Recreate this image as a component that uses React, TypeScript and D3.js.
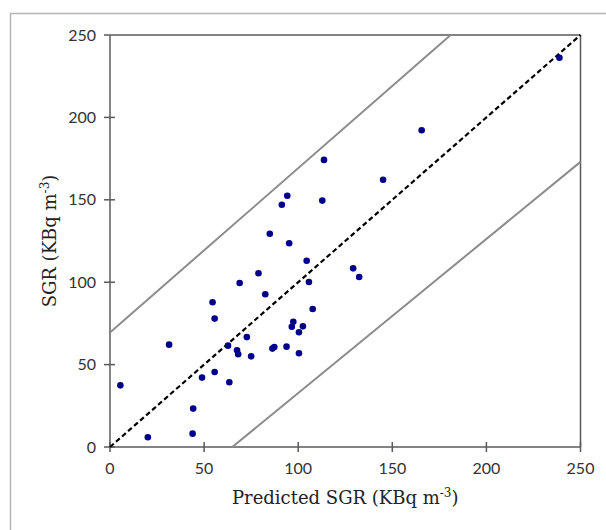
import React from "react";
import * as d3 from "d3";

const predicted = [
  113.7, 145.1, 94.2, 91.3, 112.8, 84.9, 95.2, 104.5, 129.2, 132.4,
  78.9, 68.9, 105.7, 82.5, 54.5, 55.6, 107.7, 97.4, 96.6, 102.5,
  100.4, 72.7, 62.7, 67.5, 68.1, 75.0, 86.3, 87.3, 93.8, 100.4,
  48.9, 55.6, 63.4, 238.8, 165.6, 5.5, 31.4, 20.1, 44.2, 43.9,
];
const observed = [
  174.2, 162.2, 152.5, 147.0, 149.5, 129.4, 123.6, 113.0, 108.4, 103.2,
  105.4, 99.5, 100.1, 92.7, 87.8, 77.9, 83.7, 76.0, 73.0, 73.2,
  69.6, 66.7, 61.5, 58.7, 56.3, 55.0, 59.7, 60.7, 60.9, 56.9,
  42.1, 45.5, 39.3, 236.2, 192.2, 37.4, 62.1, 5.9, 23.3, 8.1,
];
const xTicks = [0, 50, 100, 150, 200, 250];
const yTicks = [0, 50, 100, 150, 200, 250];
const identityLine: [number, number][] = [[0, 0], [250, 250]];
const upperBand: [number, number][] = [[0, 69.5], [181, 250]];
const lowerBand: [number, number][] = [[65, 0], [250, 173]];
const xTitle = "Predicted SGR (KBq m";
const yTitle = "SGR (KBq m";

export default function App() {
  const W = 606, H = 530;
  const left = 110, right = 580.5, top = 35, bottom = 447;
  const x = d3.scaleLinear().domain([0, 250]).range([left, right]);
  const y = d3.scaleLinear().domain([0, 250]).range([bottom, top]);
  const line = d3.line<[number, number]>().x(d => x(d[0])).y(d => y(d[1]));
  const axisColor = "#5a5a5a";
  const tickFont = "Lato, 'Open Sans', sans-serif";
  const titleFont = "'DejaVu Serif', 'Liberation Serif', serif";
  const pts = predicted.map((p, i) => [p, observed[i]] as [number, number]);
  return (
    <div style={{ position: "absolute", left: 0, top: 0, width: W, height: H, overflow: "hidden" }}>
      <svg width={W} height={H} style={{ display: "block", background: "#fff" }}>
        <line x1={10.5} y1={H} x2={10.5} y2={13.5} stroke="#b5b5b5" strokeWidth={1.5} />
        <line x1={10} y1={13.5} x2={W} y2={13.5} stroke="#b5b5b5" strokeWidth={1.5} />
        {/* plot box */}
        <line x1={x(0)} y1={top} x2={right} y2={top} stroke={axisColor} strokeWidth={1.5} />
        <line x1={right} y1={top} x2={right} y2={bottom} stroke={axisColor} strokeWidth={1.5} />
        <line x1={left} y1={top} x2={left} y2={bottom} stroke={axisColor} strokeWidth={1.5} />
        <line x1={left} y1={bottom} x2={right} y2={bottom} stroke={axisColor} strokeWidth={1.5} />
        {xTicks.map(t => (
          <g key={"x" + t}>
            <line x1={x(t)} x2={x(t)} y1={bottom - 5} y2={bottom + 5} stroke={axisColor} strokeWidth={1.5} />
            <text x={x(t)} y={bottom + 27} textAnchor="middle" fontFamily={tickFont} fontSize={16} fill="#333">{t}</text>
          </g>
        ))}
        {yTicks.map(t => (
          <g key={"y" + t}>
            <line x1={left - 6} x2={left + (t === 250 ? 0 : 5)} y1={y(t)} y2={y(t)} stroke={axisColor} strokeWidth={1.5} />
            <text x={left - 14} y={y(t) + 5.5} textAnchor="end" fontFamily={tickFont} fontSize={16} fill="#333">{t}</text>
          </g>
        ))}
        <path d={line(upperBand) || ""} fill="none" stroke="#8c8c8c" strokeWidth={2} />
        <path d={line(lowerBand) || ""} fill="none" stroke="#8c8c8c" strokeWidth={2} />
        <path d={line(identityLine) || ""} fill="none" stroke="#000" strokeWidth={2.2} strokeDasharray="5,3" />
        {pts.map((d, i) => (
          <circle key={i} cx={x(d[0])} cy={y(d[1])} r={3.3} fill="#00008b" />
        ))}
        <text x={(left + right) / 2} y={504} textAnchor="middle" fontFamily={titleFont} fontSize={18} fill="#222">
          {xTitle}
          <tspan dy={-7} fontSize={12}>-3</tspan>
          <tspan dy={7}>)</tspan>
        </text>
        <text transform={`translate(56,${(top + bottom) / 2}) rotate(-90)`} textAnchor="middle" fontFamily={titleFont} fontSize={18} fill="#222">
          {yTitle}
          <tspan dy={-7} fontSize={12}>-3</tspan>
          <tspan dy={7}>)</tspan>
        </text>
      </svg>
    </div>
  );
}
